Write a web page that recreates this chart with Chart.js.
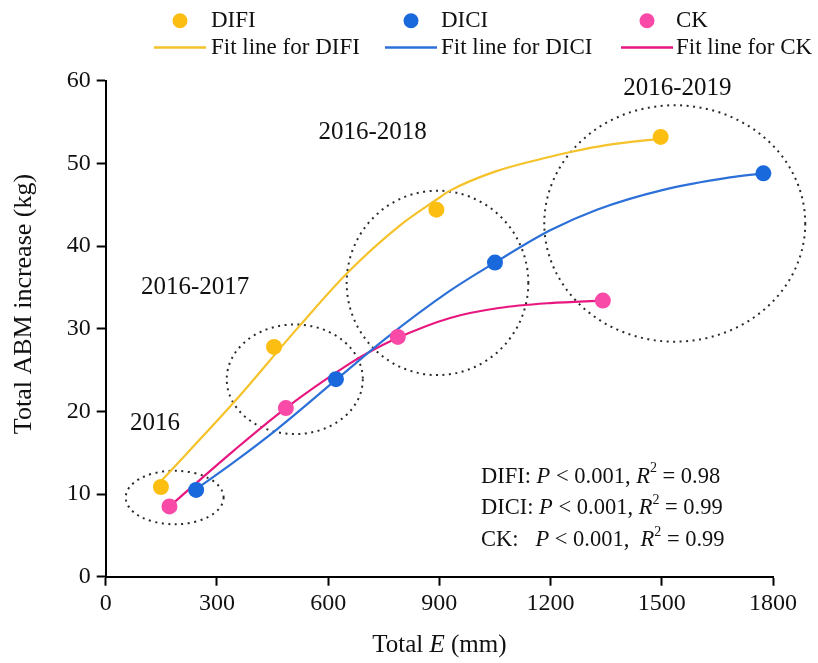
<!DOCTYPE html>
<html><head><meta charset="utf-8">
<script src="https://cdn.jsdelivr.net/npm/chart.js@4.4.1/dist/chart.umd.min.js"></script>
<style>html,body{margin:0;padding:0;background:#fff;}canvas{display:block;}</style>
</head><body>
<canvas id="c" width="818" height="663"></canvas>
<script>
// ---- data ----
const seriesNames = ['DIFI', 'DICI', 'CK'];
const xTicks = [0, 300, 600, 900, 1200, 1500, 1800];
const yTicks = [0, 10, 20, 30, 40, 50, 60];

const difiX = [149, 454, 892, 1497];
const difiY = [10.85, 27.8, 44.4, 53.2];
const diciX = [244, 621, 1050, 1774];
const diciY = [10.5, 23.9, 38.0, 48.8];
const ckX = [172, 486, 788, 1341];
const ckY = [8.5, 20.4, 29.0, 33.4];

// fitted curves, points
const difiFitX = [150, 344, 524, 653, 794, 892, 929, 1050, 1199, 1257, 1350, 1497];
const difiFitY = [11.6, 21.0, 30.4, 36.8, 42.5, 45.6, 46.7, 49.0, 50.8, 51.4, 52.2, 53.0];
const diciFitX = [241, 344, 461, 621, 749, 929, 1050, 1199, 1325, 1504, 1684, 1774];
const diciFitY = [10.5, 13.8, 17.8, 23.8, 28.6, 34.6, 38.0, 41.9, 44.4, 46.8, 48.3, 48.8];
const ckFitX = [172, 344, 486, 659, 704, 788, 929, 1060, 1199, 1341];
const ckFitY = [8.5, 15.2, 20.4, 25.8, 27.0, 28.9, 31.3, 32.5, 33.1, 33.4];

const periodLabels = ['2016', '2016-2017', '2016-2018', '2016-2019'];
const statsNames = ['DIFI: ', 'DICI: ', 'CK:   '];
const statsP = [' < 0.001, ', ' < 0.001, ', ' < 0.001,  '];
const statsR2 = ['0.98', '0.99', '0.99'];

// ---- annotation geometry (data units) ----
const periodLabelAt = [[133, 18.6], [241, 35.0], [720, 53.7], [1542, 59.06]];
const ellipseAt = [[186, 9.58, 132, 3.24], [510, 23.88, 183.5, 6.63], [895, 35.54, 245, 11.15], [1535, 42.73, 352, 14.3]];

const pointColors = ['#FDBE12', '#1968DC', '#F84AA6'];
const lineColors = ['#F5C22A', '#2C70D8', '#E8167F'];
const FONT = '"Liberation Serif", "Times New Roman", Times, serif';

const zip = (xs, ys) => xs.map((x, i) => ({x, y: ys[i]}));
const ptsets = [zip(difiX, difiY), zip(diciX, diciY), zip(ckX, ckY)];
const fitsets = [zip(difiFitX, difiFitY), zip(diciFitX, diciFitY), zip(ckFitX, ckFitY)];

const datasets = [];
seriesNames.forEach((n, i) => datasets.push({
  type: 'scatter', label: n, data: ptsets[i], showLine: false,
  pointRadius: 8, pointHoverRadius: 8, pointBackgroundColor: pointColors[i],
  pointBorderWidth: 0, borderColor: pointColors[i]
}));
seriesNames.forEach((n, i) => datasets.push({
  type: 'line', label: 'Fit line for ' + n, data: fitsets[i], showLine: true,
  pointRadius: 0, borderColor: lineColors[i], borderWidth: 2.2,
  cubicInterpolationMode: 'monotone', fill: false
}));

const overlay = {
  id: 'overlay',
  beforeDatasetsDraw(chart) {
    const ctx = chart.ctx, xs = chart.scales.x, ys = chart.scales.y;
    ctx.save();
    ctx.strokeStyle = '#2a2a2a';
    ctx.lineWidth = 2;
    ctx.setLineDash([2, 4.5]);
    ellipseAt.forEach(([cx, cy, rx, ry]) => {
      const px = xs.getPixelForValue(cx), py = ys.getPixelForValue(cy);
      const prx = xs.getPixelForValue(cx + rx) - px, pry = py - ys.getPixelForValue(cy + ry);
      ctx.beginPath();
      ctx.ellipse(px, py, prx, pry, 0, 0, Math.PI * 2);
      ctx.stroke();
    });
    ctx.restore();
  },
  afterDraw(chart) {
    const ctx = chart.ctx, xs = chart.scales.x, ys = chart.scales.y, ca = chart.chartArea;
    ctx.save();
    ctx.fillStyle = '#111';
    ctx.textBaseline = 'middle';
    // period labels
    ctx.textAlign = 'center';
    ctx.font = '25px ' + FONT;
    periodLabels.forEach((t, i) => {
      ctx.fillText(t, xs.getPixelForValue(periodLabelAt[i][0]), ys.getPixelForValue(periodLabelAt[i][1]));
    });
    // stats text
    ctx.textAlign = 'left';
    const rowY = [476.7, 508.3, 540];
    const N = '22.5px ' + FONT, I = 'italic 22.5px ' + FONT;
    statsNames.forEach((n, i) => {
      const y = rowY[i];
      const runs = [[n, N, 0], ['P', I, 0], [statsP[i], N, 0], ['R', I, 0], ['2', '14px ' + FONT, -8], [' = ' + statsR2[i], N, 0]];
      let x = 481;
      runs.forEach(([t, f, dy]) => {
        ctx.font = f;
        ctx.fillText(t, x, y + dy);
        x += ctx.measureText(t).width;
      });
    });
    // legend
    const legX = [180, 411, 647];
    const lineX = [[154, 206], [385, 437], [621, 673]];
    const textX = [211, 441, 676];
    ctx.font = '23px ' + FONT;
    seriesNames.forEach((n, i) => {
      ctx.fillStyle = pointColors[i];
      ctx.beginPath(); ctx.arc(legX[i], 20.7, 7.5, 0, Math.PI * 2); ctx.fill();
      ctx.strokeStyle = lineColors[i]; ctx.lineWidth = 2.5;
      ctx.beginPath(); ctx.moveTo(lineX[i][0], 47.5); ctx.lineTo(lineX[i][1], 47.5); ctx.stroke();
      ctx.fillStyle = '#111';
      ctx.fillText(datasets[i].label, textX[i], 21);
      ctx.fillText(datasets[i + 3].label, textX[i], 47.5);
    });
    // x axis title
    const p1 = 'Total ', p3 = ' (mm)';
    ctx.font = 'italic 25px ' + FONT; const w2 = ctx.measureText('E').width;
    ctx.font = '25px ' + FONT; const w1 = ctx.measureText(p1).width, w3 = ctx.measureText(p3).width;
    let x = (ca.left + ca.right) / 2 - (w1 + w2 + w3) / 2;
    const ty = 645;
    ctx.fillText(p1, x, ty); x += w1;
    ctx.font = 'italic 25px ' + FONT; ctx.fillText('E', x, ty); x += w2;
    ctx.font = '25px ' + FONT; ctx.fillText(p3, x, ty);
    // y axis title
    ctx.translate(24, 304);
    ctx.rotate(-Math.PI / 2);
    ctx.textAlign = 'center';
    ctx.font = '26px ' + FONT;
    ctx.fillText('Total ABM increase (kg)', 0, 0);
    ctx.restore();
  }
};

new Chart(document.getElementById('c'), {
  data: {datasets},
  options: {
    responsive: false, animation: false, devicePixelRatio: 1,
    layout: {padding: {left: 0, right: 45, top: 80.7, bottom: 0}},
    plugins: {legend: {display: false}, tooltip: {enabled: false}},
    scales: {
      x: {
        type: 'linear', min: 0, max: 1800,
        afterBuildTicks: s => { s.ticks = xTicks.map(v => ({value: v})); },
        afterFit: s => { s.height = 663 - 576.7; },
        border: {display: true, color: '#000', width: 2},
        grid: {drawOnChartArea: false, drawTicks: true, tickLength: 9, tickWidth: 2, tickColor: '#000'},
        ticks: {color: '#111', padding: 4, font: {family: FONT, size: 24}, maxRotation: 0, callback: v => String(v)}
      },
      y: {
        type: 'linear', min: 0, max: 60,
        afterBuildTicks: s => { s.ticks = yTicks.map(v => ({value: v})); },
        afterFit: s => { s.width = 105.7; },
        border: {display: true, color: '#000', width: 2},
        grid: {drawOnChartArea: false, drawTicks: true, tickLength: 9, tickWidth: 2, tickColor: '#000'},
        ticks: {color: '#111', padding: 6, font: {family: FONT, size: 24}, callback: v => String(v)}
      }
    }
  },
  plugins: [overlay]
});
</script>
</body></html>
